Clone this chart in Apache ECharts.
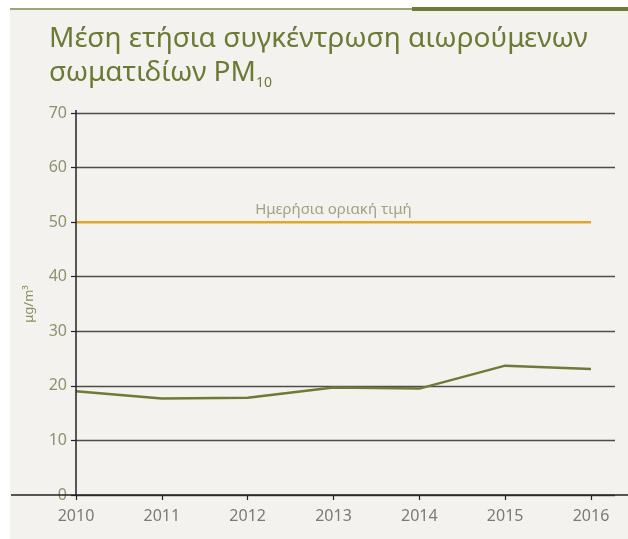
<!DOCTYPE html>
<html><head><meta charset="utf-8">
<script src="https://cdn.jsdelivr.net/npm/echarts@6/dist/echarts.min.js"></script>
<style>html,body{margin:0;padding:0;background:#fff}#c{width:628px;height:539px}</style>
</head><body><div id="c"></div>
<script>
const years = ['2010','2011','2012','2013','2014','2015','2016'];
const pm10 = [19.0, 17.7, 17.8, 19.7, 19.5, 23.7, 23.1];
const dailyLimit = [50, 50, 50, 50, 50, 50, 50];
const yTicks = [0, 10, 20, 30, 40, 50, 60, 70];
const titleLine1 = 'Μέση ετήσια συγκέντρωση αιωρούμενων';
const titleLine2 = 'σωματιδίων PM';
const titleSub = '10';
const limitLabel = 'Ημερήσια οριακή τιμή';
const limitLabelAt = ['2013', 50];
const unitLabel = 'μg/m³';

const FONT = 'Noto Sans';
const OLIVE = '#6c7a33';
const chart = echarts.init(document.getElementById('c'), null, {renderer:'canvas'});
const gridColors = yTicks.map(v => v === 50 ? 'rgba(0,0,0,0)' : '#4d4d4d');
chart.setOption({
  backgroundColor: '#ffffff',
  animation: false,
  graphic: [
    {type:'rect', shape:{x:10,y:10,width:618,height:529}, style:{fill:'#f3f2ee'}, z:-10},
    {type:'line', shape:{x1:10,y1:9,x2:412,y2:9}, style:{stroke:'#7d8748',lineWidth:1.5}},
    {type:'rect', shape:{x:412,y:7,width:216,height:4}, style:{fill:'#6f7d34'}},
    {type:'line', shape:{x1:11,y1:495,x2:628,y2:495}, style:{stroke:'#222',lineWidth:1.5}, z:5},
    {type:'line', shape:{x1:76,y1:110,x2:76,y2:495}, style:{stroke:'#222',lineWidth:1.5}, z:5}
  ],
  title: {
    left: 44, top: 17,
    text: '{a|' + titleLine1 + '}\n{a|' + titleLine2 + '}{s|' + titleSub + '}',
    textStyle: {
      fontWeight: 'normal',
      rich: {
        a: {fontFamily: FONT, fontSize: 28, fontWeight:'normal', color: OLIVE, lineHeight: 34},
        s: {fontFamily: FONT, fontSize: 14, fontWeight:'normal', color: OLIVE, lineHeight: 34, verticalAlign: 'bottom', padding:[12,0,0,0]}
      }
    }
  },
  grid: [
    {left: 76, right: 37, top: 113, bottom: 44},
    {left: 76, right: 13, top: 113, bottom: 44}
  ],
  xAxis: [
    {gridIndex:0, type:'category', data: years, boundaryGap:false,
     axisLine:{show:false},
     axisTick:{show:true, inside:false, length:5, lineStyle:{color:'#222', width:1.2}},
     axisLabel:{color:'#7a7a7a', fontFamily:FONT, fontSize:16, margin:13}},
    {gridIndex:1, type:'value', min:0, max:1, show:false}
  ],
  yAxis: [
    {gridIndex:0, type:'value', min:0, max:70, interval:10,
     name: unitLabel, nameLocation:'middle', nameRotate:90, nameGap:40,
     nameTextStyle:{color:'#8a9160', fontFamily:FONT, fontSize:13},
     axisLine:{show:false},
     axisTick:{show:true, length:5, lineStyle:{color:'#222', width:1.2}},
     axisLabel:{color:'#8e916c', fontFamily:FONT, fontSize:16, margin:9},
     splitLine:{show:false}},
    {gridIndex:1, type:'value', min:0, max:70, interval:10,
     axisLine:{show:false}, axisTick:{show:false}, axisLabel:{show:false},
     splitLine:{show:true, lineStyle:{color:gridColors, width:1.3}}}
  ],
  series: [
    {type:'line', xAxisIndex:0, yAxisIndex:0, data: dailyLimit, symbol:'none',
     lineStyle:{color:'#e3a52a', width:2.5}, z:3},
    {type:'scatter', xAxisIndex:0, yAxisIndex:0, data:[limitLabelAt], symbolSize:1,
     itemStyle:{color:'rgba(0,0,0,0)'}, silent:true, z:6,
     label:{show:true, formatter: limitLabel, position:'top', distance:4,
       color:'#8a8f68', fontFamily:FONT, fontSize:15}},
    {type:'line', xAxisIndex:0, yAxisIndex:0, data: pm10, symbol:'none',
     lineStyle:{color:'#6e7a36', width:2.5}, z:4}
  ]
});
</script></body></html>
